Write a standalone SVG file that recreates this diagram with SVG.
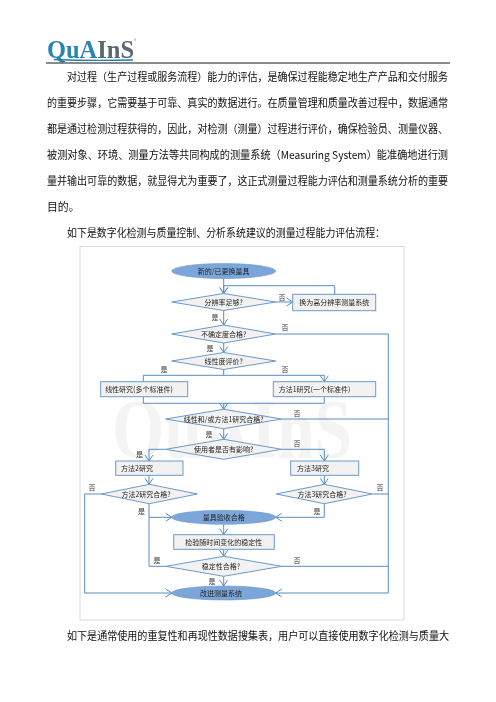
<svg xmlns="http://www.w3.org/2000/svg" width="496" height="702" viewBox="0 0 496 702">
<style>
text{font-family:"Noto Sans CJK SC","Liberation Sans",sans-serif}
.p{font-size:10.85px;fill:#111}
.n{font-size:7px;fill:#222;text-anchor:middle}
.l{font-size:7px;fill:#333;text-anchor:middle}
.s{fill:#f2f2f2;stroke:#6b9ac9;stroke-width:1}
.e{fill:#7ba6da;stroke:#6b9ac9;stroke-width:.6}
.c{fill:none;stroke:#5b8cc0;stroke-width:1;marker-end:url(#a)}
.d{fill:none;stroke:#5b8cc0;stroke-width:1}
</style>
<defs>
<marker id="a" markerWidth="12" markerHeight="10" refX="9" refY="5" orient="auto" markerUnits="userSpaceOnUse"><path d="M3 1L9 5L3 9" fill="none" stroke="#5b8cc0" stroke-width="1"/></marker>
<filter id="b" x="-2%" y="-2%" width="104%" height="104%"><feGaussianBlur stdDeviation="0.3"/></filter>
</defs>
<rect width="496" height="702" fill="#fff"/>
<g id="header" filter="url(#b)">
<text x="47" y="57.500" font-size="25" font-weight="700" style="font-family:'Liberation Serif',serif" fill="#5a6770" textLength="87" lengthAdjust="spacingAndGlyphs"><tspan fill="#2a84ad">QuA</tspan>InS</text>
<text x="134" y="41.500" font-size="4" fill="#888">®</text>
<path d="M54 59.500Q90 61 133 60" fill="none" stroke="#1b7fae" stroke-width="1.300"/>
<line x1="46" y1="63" x2="450" y2="63" stroke="#111" stroke-width="1"/>
</g>
<g id="body" filter="url(#b)">
<text class="p" x="67" y="81" textLength="381" lengthAdjust="spacingAndGlyphs">对过程（生产过程或服务流程）能力的评估，是确保过程能稳定地生产产品和交付服务</text>
<text class="p" x="47" y="107" textLength="401" lengthAdjust="spacingAndGlyphs">的重要步骤，它需要基于可靠、真实的数据进行。在质量管理和质量改善过程中，数据通常</text>
<text class="p" x="47" y="133" textLength="401" lengthAdjust="spacingAndGlyphs">都是通过检测过程获得的，因此，对检测（测量）过程进行评价，确保检验员、测量仪器、</text>
<text class="p" x="47" y="158.500" textLength="401" lengthAdjust="spacingAndGlyphs">被测对象、环境、测量方法等共同构成的测量系统（Measuring  System）能准确地进行测</text>
<text class="p" x="47" y="185" textLength="401" lengthAdjust="spacingAndGlyphs">量并输出可靠的数据，就显得尤为重要了，这正式测量过程能力评估和测量系统分析的重要</text>
<text class="p" x="47" y="211">目的。</text>
<text class="p" x="67" y="237" textLength="318" lengthAdjust="spacingAndGlyphs">如下是数字化检测与质量控制、分析系统建议的测量过程能力评估流程：</text>
<text class="p" x="67" y="640" textLength="382" lengthAdjust="spacingAndGlyphs">如下是通常使用的重复性和再现性数据搜集表，用户可以直接使用数字化检测与质量大</text>
</g>
<g filter="url(#b)">
<rect id="frame" x="80" y="246.500" width="324" height="373.500" fill="#fff" stroke="#d9d9d9" stroke-width="1"/>
<text x="112" y="458" font-size="84" font-weight="700" style="font-family:'Liberation Serif',serif" fill="#f4f4f4" textLength="240" lengthAdjust="spacingAndGlyphs">QuAInS</text>
<g id="connectors">
<path class="c" d="M223.700 278.500V293.500"/>
<path class="c" d="M334.700 294.300V285.700H223.700V293.500"/>
<path class="c" d="M275.700 302H292.700"/>
<path class="c" d="M223.700 310.500V325"/>
<path class="c" d="M223.700 343V352.500"/>
<path class="d" d="M275.700 334H388.300V593"/>
<path class="d" d="M223.700 369.500V375.300"/>
<path class="c" d="M143.300 381.700V375.300H324.300V381.700"/>
<path class="d" d="M143.300 396.700V403.300H324.300V396.700"/>
<path class="c" d="M223.700 403.300V409.300"/>
<path class="c" d="M223.700 428.700V439.300"/>
<path class="d" d="M281.700 419H388.300"/>
<path class="c" d="M165.700 449.300H149V461"/>
<path class="c" d="M281.700 449.300H324.300V461"/>
<path class="c" d="M149 475.300V484.300"/>
<path class="c" d="M324.300 475.300V484.300"/>
<path class="d" d="M372.300 494H388.300"/>
<path class="c" d="M101.300 494H84.700V593H171.700"/>
<path class="c" d="M149 503.700V517.300H171.700"/>
<path class="d" d="M149 517.300V566.300H165.700"/>
<path class="c" d="M324.300 503.700V517.300H275.700"/>
<path class="c" d="M223.700 524.300V534.700"/>
<path class="c" d="M223.700 549.300V556.300"/>
<path class="d" d="M281.700 566.300H388.300"/>
<path class="c" d="M223.700 576.300V586"/>
<path class="c" d="M388.300 593H275.700"/>
</g>
<g id="start"><ellipse class="e" cx="223.700" cy="271" rx="52" ry="7.500"/><text class="n" x="223.700" y="273.500">新的/已更换量具</text></g>
<g id="d1"><polygon class="s" points="171.700,302 223.700,293.500 275.700,302 223.700,310.500"/><text class="n" x="223.700" y="304.500">分辨率足够?</text></g>
<g id="b1"><rect class="s" x="292.700" y="294.300" width="83" height="16.400"/><text class="n" x="334.200" y="305">换为高分辨率测量系统</text></g>
<g id="d2"><polygon class="s" points="171.700,334 223.700,325 275.700,334 223.700,343"/><text class="n" x="223.700" y="336.500">不确定度合格?</text></g>
<g id="d3"><polygon class="s" points="171.700,361 223.700,352.500 275.700,361 223.700,369.500"/><text class="n" x="223.700" y="363.500">线性度评价?</text></g>
<g id="b2"><rect class="s" x="100.700" y="381.700" width="87" height="15"/><text class="n" x="139" y="392">线性研究(多个标准件)</text></g>
<g id="b3"><rect class="s" x="273.300" y="381.700" width="102.400" height="15"/><text class="n" x="314.500" y="392">方法1研究(一个标准件)</text></g>
<g id="d4"><polygon class="s" points="165.700,419 223.700,409.300 281.700,419 223.700,428.700"/><text class="n" x="223.700" y="421.500">线性和/或方法1研究合格?</text></g>
<g id="d5"><polygon class="s" points="165.700,449.300 223.700,439.300 281.700,449.300 223.700,459.300"/><text class="n" x="223.700" y="451.800">使用者是否有影响?</text></g>
<g id="b4"><rect class="s" x="115.700" y="461" width="67.300" height="14.300"/><text class="n" x="137" y="471">方法2研究</text></g>
<g id="b5"><rect class="s" x="290.700" y="461" width="68" height="14.300"/><text class="n" x="313" y="471">方法3研究</text></g>
<g id="d6"><polygon class="s" points="101.300,494 149.300,484.300 197.300,494 149.300,503.700"/><text class="n" x="146" y="496.500">方法2研究合格?</text></g>
<g id="d7"><polygon class="s" points="276.300,494 324.300,484.300 372.300,494 324.300,503.700"/><text class="n" x="322" y="496.500">方法3研究合格?</text></g>
<g id="accept"><ellipse class="e" cx="223.700" cy="517.300" rx="52" ry="7"/><text class="n" x="223.700" y="519.800">量具验收合格</text></g>
<g id="b6"><rect class="s" x="173.700" y="534.700" width="100.600" height="14.600"/><text class="n" x="223.700" y="544.500">检验随时间变化的稳定性</text></g>
<g id="d8"><polygon class="s" points="165.700,566.300 223.700,556.300 281.700,566.300 223.700,576.300"/><text class="n" x="221" y="568.800">稳定性合格?</text></g>
<g id="end"><ellipse class="e" cx="223.700" cy="593" rx="52" ry="7"/><text class="n" x="221" y="595.500">改进测量系统</text></g>
<g id="labels">
<text class="l" x="282" y="299.500">否</text><text class="l" x="215" y="319.500">是</text><text class="l" x="285" y="329.500">否</text><text class="l" x="210" y="350.500">是</text><text class="l" x="164" y="371.500">是</text><text class="l" x="285" y="371.500">否</text>
<text class="l" x="297" y="415.500">否</text><text class="l" x="209" y="436.500">是</text><text class="l" x="297" y="446">否</text><text class="l" x="139.500" y="456.500">是</text><text class="l" x="92" y="489.500">否</text><text class="l" x="380" y="489.500">否</text>
<text class="l" x="141.500" y="513.500">是</text><text class="l" x="317" y="513.500">是</text><text class="l" x="157" y="562.500">是</text><text class="l" x="297" y="562.500">否</text><text class="l" x="212" y="583.500">是</text>
</g>
</g>
</svg>
